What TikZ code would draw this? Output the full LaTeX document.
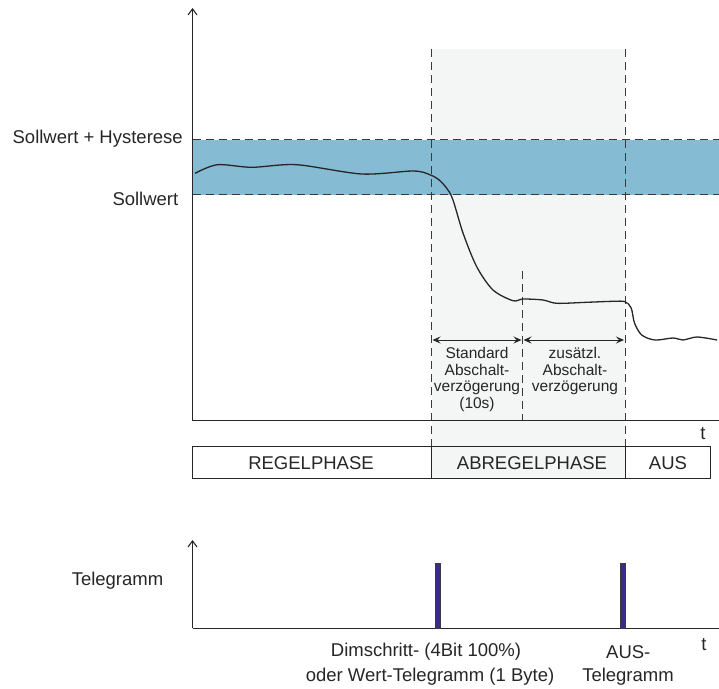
\documentclass[tikz,border=0pt]{standalone}
\usepackage{fontspec}
\setmainfont{Liberation Sans}
\usetikzlibrary{arrows.meta}
\definecolor{bandcol}{HTML}{86BCD3}
\definecolor{shadecol}{HTML}{F4F6F6}
\definecolor{pulsecol}{HTML}{3A2A8C}
\definecolor{ink}{HTML}{262626}
\definecolor{guidecol}{HTML}{3A3A3A}
\begin{document}
\begin{tikzpicture}[x=1pt,y=-1pt,
  axisline/.style={ink, line width=1.2pt, -{Straight Barb[length=6pt,width=9pt,line width=1.1pt]}},
  guide/.style={guidecol, line width=1pt, dash pattern=on 8pt off 5pt},
  dimline/.style={ink, line width=1pt, {Stealth[length=8pt,width=7pt,inset=3pt]}-{Stealth[length=8pt,width=7pt,inset=3pt]}},
  curveline/.style={ink, line width=1.3pt, line join=round},
  lbl/.style={font=\fontsize{18.5}{21}\selectfont, text=ink, inner sep=0pt},
  note/.style={font=\fontsize{15.5}{16.5}\selectfont, text=ink, align=center, inner sep=0pt},
  phasebox/.style={draw=ink, line width=1pt},
  pulsebar/.style={draw=guidecol, fill=pulsecol, line width=0.8pt, minimum width=5pt, minimum height=65pt, inner sep=0pt},
]
\useasboundingbox (0,0) rectangle (719,688);

% coordinates
\coordinate (O) at (192.5,420.7);
\coordinate (Ytop) at (192.5,8);
\coordinate (Xend) at (719,420.7);
\coordinate (O2) at (192.5,628.3);
\coordinate (Y2top) at (192.5,540);
\coordinate (X2end) at (719,628.3);
\coordinate (Htop) at (192.5,139.5);
\coordinate (Hend) at (719,139.5);
\coordinate (Stop) at (192.5,194.5);
\coordinate (Send) at (719,194.5);
\coordinate (DAtop) at (431.5,49);
\coordinate (DAbot) at (431.5,446.7);
\coordinate (DBtop) at (625,49);
\coordinate (DBbot) at (625,446.7);
\coordinate (DMtop) at (522.5,271);
\coordinate (DMbot) at (522.5,420.7);
\coordinate (ArA) at (432.5,340);
\coordinate (ArM1) at (521.5,340);
\coordinate (ArM2) at (523.5,340);
\coordinate (ArB) at (624,340);

% shaded phase region and hysteresis band
\fill[shadecol] (431.5,49) rectangle (625,478.3);
\fill[bandcol] (192.5,139.5) rectangle (719,194.5);

% dashed guide lines
\draw[guide] (Htop) -- (Hend);
\draw[guide] (Stop) -- (Send);
\draw[guide] (DAtop) -- (DAbot);
\draw[guide] (DBtop) -- (DBbot);
\draw[guide] (DMtop) -- (DMbot);

% measured curve
\draw[curveline] plot[smooth, tension=0.5] coordinates {
 (195,173.3) (217.4,164.7) (251.8,167.3) (296.5,164.7) (361.8,174) (413.3,171)
 (430.5,175) (441,181.7) (451.7,196.7) (463,233) (476.7,266.7) (493,290)
 (513,300.7) (523,299) (543,300) (556.7,303.3) (586.7,302.3) (613,301.3)
 (625,301.7) (631.2,308) (634.5,323) (641.7,335) (655,340) (673,338)
 (683,340) (697,337) (717,340)};

% dimension arrows
\draw[dimline] (ArA) -- (ArM1);
\draw[dimline] (ArM2) -- (ArB);

% axes
\draw[axisline] (O) -- (Ytop);
\draw[ink, line width=1.2pt] (O) -- (Xend);
\draw[axisline] (O2) -- (Y2top);
\draw[ink, line width=1.2pt] (O2) -- (X2end);

% phase bar
\draw[phasebox] (192.5,446.7) rectangle (710.7,478.3);
\draw[phasebox] (431.5,446.7) -- (431.5,478.3);
\draw[phasebox] (625,446.7) -- (625,478.3);
\node[lbl] (regel) at (311,463) {REGELPHASE};
\node[lbl] (abregel) at (532,463) {ABREGELPHASE};
\node[lbl] (aus) at (668,463) {AUS};

% labels
\node[lbl, anchor=east] (hyst) at (183,139) {Sollwert + Hysterese};
\node[lbl, anchor=east] (soll) at (178.5,198.5) {Sollwert};
\node[lbl] (t1) at (703,434) {t};
\node[lbl] (t2) at (704,645) {t};
\node[note] (std) at (477,379.5) {Standard\\Abschalt-\\verzögerung\\(10s)};
\node[note] (zus) at (575,371) {zusätzl.\\Abschalt-\\verzögerung};

% telegram panel
\node[lbl] (tel) at (117.5,581) {Telegramm};
\node[pulsebar, anchor=south] (p1) at (437.8,628.3) {};
\node[pulsebar, anchor=south] (p2) at (623.3,628.3) {};
\node[lbl] (dim1) at (426,652) {Dimschritt- (4Bit 100\%)};
\node[lbl] (dim2) at (430,677) {oder Wert-Telegramm (1 Byte)};
\node[lbl] (aus1) at (628.3,652) {AUS-};
\node[lbl] (aus2) at (628,677) {Telegramm};
\end{tikzpicture}
\end{document}
